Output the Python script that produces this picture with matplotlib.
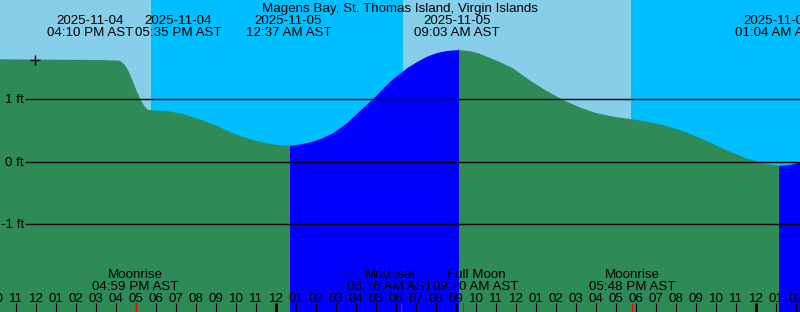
import numpy as np
import matplotlib
matplotlib.use('Agg')
from matplotlib import pyplot as plt
from matplotlib import transforms

plt.rcParams['font.family'] = ['Liberation Sans', 'DejaVu Sans']

W, H = 800, 312
title = 'Magens Bay, St. Thomas Island, Virgin Islands'

# tide curve: hours from 2025-11-04 00:00 AST, height in ft
hours = [10.2, 12.7, 15.2, 16.2, 16.45, 16.65, 16.85, 17.05, 17.2, 17.35, 17.45, 17.6,
         17.95, 18.55, 19.35, 20.2, 21.05, 21.85, 22.7, 23.55, 24.2, 24.7,
         25.2, 25.85, 26.35, 26.85, 27.55, 28.2, 28.85, 29.35, 29.85, 30.55, 31.05, 31.55,
         32.05, 32.55, 33.15,
         33.7, 34.15, 34.55, 35.2, 35.85, 36.7, 37.45, 38.35, 39.2, 40.05, 40.95, 41.7, 42.5,
         43.35, 44.2, 45.05, 45.85, 46.7, 47.55, 48.35, 49.15, 49.7, 50.2]
heights = [1.635, 1.629, 1.624, 1.613, 1.544, 1.432, 1.277, 1.112, 1.016, 0.92, 0.872, 0.824,
           0.816, 0.808, 0.76, 0.675, 0.568, 0.451, 0.355, 0.291, 0.259, 0.253,
           0.272, 0.317, 0.375, 0.451, 0.611, 0.808, 0.995, 1.16, 1.315, 1.491, 1.59, 1.677,
           1.735, 1.768, 1.784,
           1.765, 1.728, 1.677, 1.59, 1.491, 1.296, 1.144, 0.984, 0.864, 0.771, 0.712, 0.68, 0.64,
           0.584, 0.504, 0.397, 0.28, 0.157, 0.048, -0.029, -0.072, -0.056, -0.019]

# daylight / night shading (hours)
light_spans = [(10.2, 17.75), (30.35, 41.75)]
dark_spans = [(17.75, 30.35), (41.75, 50.2)]

# tide / sun events at the top
top_times = [16.167, 17.583, 24.617, 33.05, 49.067]
top_dates = ['2025-11-04', '2025-11-04', '2025-11-05', '2025-11-05', '2025-11-06']
top_clock = ['04:10 PM AST', '05:35 PM AST', '12:37 AM AST', '09:03 AM AST', '01:04 AM AST']
top_nudge = [-1.47, 1.52, 0, 0, 0]

# moon events at the bottom
moon_times = [16.983, 30.267, 33.333, 41.8]
moon_names = ['Moonrise', 'Moonset', 'Full Moon', 'Moonrise']
moon_clock = ['04:59 PM AST', '06:16 AM AST', '09:20 AM AST', '05:48 PM AST']
moon_nudge = [0, -0.565, 0.67, 0]

levels = [1, 0, -1]
level_labels = ['1 ft', '0 ft', '-1 ft']

now_hour = 11.93
FS = 9.6

fig = plt.figure(figsize=(W / 100, H / 100), dpi=100)
ax = fig.add_axes([0, 0, 1, 1])
x0, x1 = 10.2, 50.2
y0, y1 = -2.408, 2.584
ax.set_xlim(x0, x1)
ax.set_ylim(y0, y1)
ax.axis('off')

for a, b in light_spans:
    ax.axvspan(a, b, color='#87CEEB', lw=0, zorder=0)
for a, b in dark_spans:
    ax.axvspan(a, b, color='#00BFFF', lw=0, zorder=0)

t = np.array(hours)
h = np.array(heights)
rise = np.zeros(len(t), bool)
fall = np.zeros(len(t), bool)
for i in range(len(t) - 1):
    if h[i + 1] > h[i]:
        rise[i] = rise[i + 1] = True
    else:
        fall[i] = fall[i + 1] = True
ax.fill_between(t, y0 - 1, h, where=fall, color='#2E8B57', lw=0, zorder=1)
ax.fill_between(t, y0 - 1, h, where=rise, color='#0000FF', lw=0, zorder=1)

# level lines
for lv, lab in zip(levels, level_labels):
    ax.axhline(lv, xmin=26 / W, xmax=1, color='black', lw=1.0, zorder=3)
    tr = transforms.offset_copy(transforms.blended_transform_factory(fig.transFigure, ax.transData),
                                fig=fig, y=-4, units='dots')
    ax.text(24 / W, lv, lab, transform=tr, ha='right', va='baseline', fontsize=FS, color='black')

# "now" mark
ax.plot([now_hour], [np.interp(now_hour, t, h)], marker='+', ms=7, mew=1.0, color='black', zorder=4)

top = transforms.blended_transform_factory(ax.transData, fig.transFigure)


def ptext(x, ypx, s):
    ax.text(x, 1 - ypx / H, s, transform=top, ha='center', va='baseline', fontsize=FS,
            color='black', zorder=5)


ax.text(0.5, 1 - 12.3 / H, title, transform=fig.transFigure, ha='center', va='baseline',
        fontsize=FS, color='black')
for tm, d, c, n in zip(top_times, top_dates, top_clock, top_nudge):
    ptext(tm + n, 24, d)
    ptext(tm + n, 36, c)

for tm, nm, c, n in zip(moon_times, moon_names, moon_clock, moon_nudge):
    ptext(tm + n, 278.3, nm)
    ptext(tm + n, 290, c)

# hour ticks and labels
tick_tr = transforms.blended_transform_factory(ax.transData, ax.transAxes)
for hr in range(10, 51):
    hh = hr % 12 or 12
    ptext(hr, 302.3, '%02d' % hh)
    ax.vlines(hr, 0, 9 / H, transform=tick_tr, color='black',
              lw=2.2 if hr % 24 == 0 else 0.8, zorder=5)
for tm in moon_times:
    ax.vlines(tm, 0, 9 / H, transform=tick_tr, color='red', lw=0.8, zorder=5)

fig.savefig('out.png', dpi=100)
